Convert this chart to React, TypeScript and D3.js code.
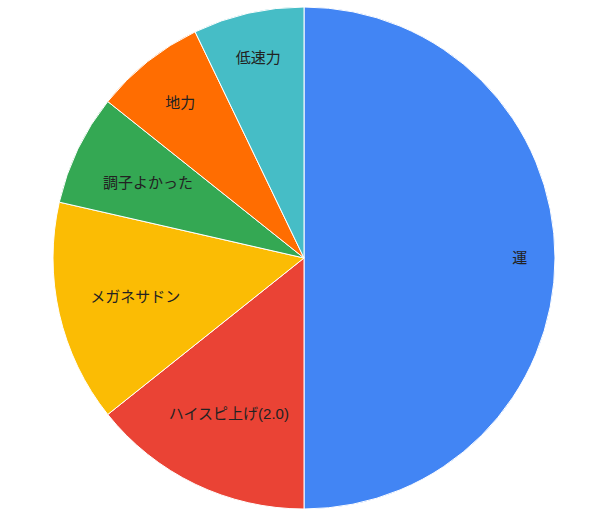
import React, { useRef, useEffect } from 'react';
import * as d3 from 'd3';

const labels = ['運', 'ハイスピ上げ(2.0)', 'メガネサドン', '調子よかった', '地力', '低速力'];
const counts = [7, 2, 2, 1, 1, 1];
const colors = ['#4285f4', '#ea4335', '#fbbc04', '#34a853', '#ff6d01', '#46bdc6'];
// how far out each label sits, as a share of the radius
const labelPos = [0.86, 0.69, 0.69, 0.69, 0.79, 0.82];

const width = 608;
const height = 520;

const App = () => {
  const ref = useRef<SVGSVGElement>(null);

  useEffect(() => {
    const svg = d3.select(ref.current);
    svg.selectAll('*').remove();

    const cx = 304;
    const cy = 258;
    const radius = 251;

    const pie = d3.pie<number>().sort(null).value(d => d);
    const arcs = pie(counts);

    const arc = d3.arc<d3.PieArcDatum<number>>()
      .innerRadius(0)
      .outerRadius(radius);

    const g = svg.append('g')
      .attr('transform', `translate(${cx}, ${cy})`);

    g.selectAll('path')
      .data(arcs)
      .enter().append('path')
      .attr('d', arc)
      .style('fill', (d, i) => colors[i])
      .style('stroke', '#ffffff')
      .style('stroke-width', 1);

    g.selectAll('text')
      .data(arcs)
      .enter().append('text')
      .attr('transform', (d, i) => {
        const a = (d.startAngle + d.endAngle) / 2;
        const r = radius * labelPos[i];
        return `translate(${r * Math.sin(a)}, ${-r * Math.cos(a)})`;
      })
      .attr('text-anchor', 'middle')
      .attr('dy', '0.35em')
      .style('font-family', 'Arial, "Liberation Sans", "Noto Sans CJK JP", sans-serif')
      .style('font-size', '15px')
      .style('fill', '#222222')
      .text((d, i) => labels[i]);
  }, []);

  return (
    <svg
      ref={ref}
      width={width}
      height={height}
      style={{ position: 'absolute', left: 0, top: 0, background: '#ffffff' }}
    ></svg>
  );
};

export default App;
